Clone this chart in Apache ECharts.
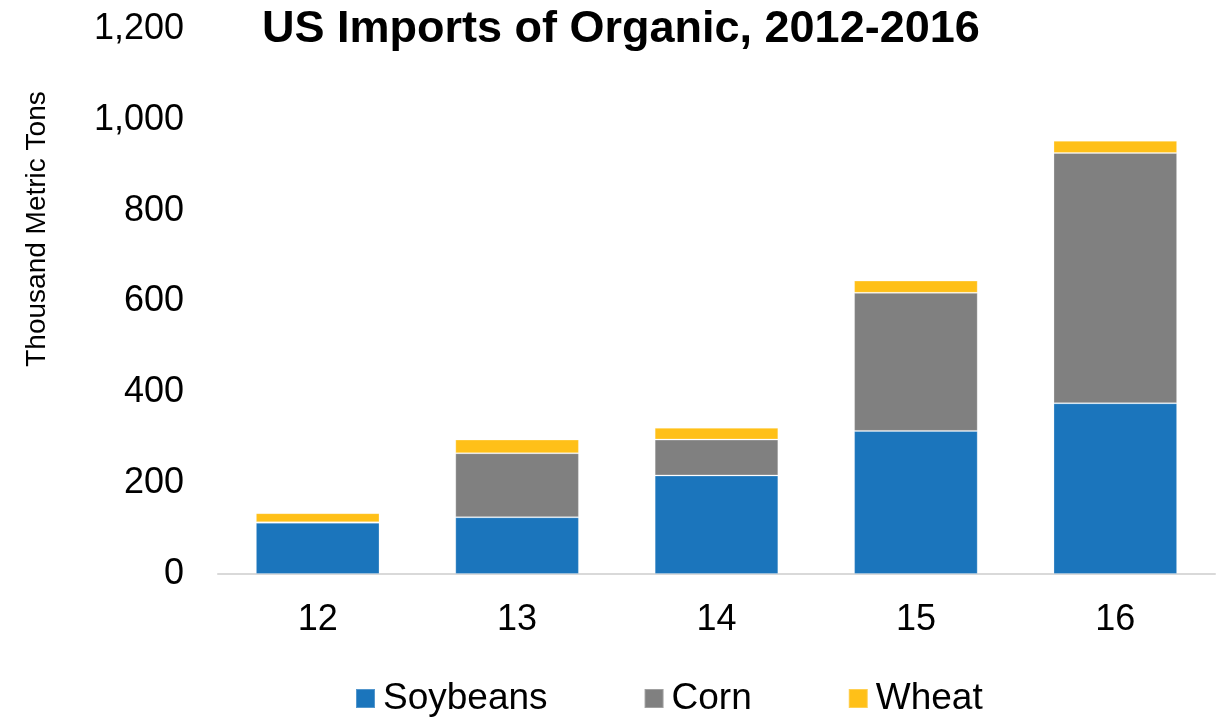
<!DOCTYPE html>
<html>
<head>
<meta charset="utf-8">
<title>US Imports of Organic</title>
<script src="https://cdn.jsdelivr.net/npm/echarts@6/dist/echarts.min.js"></script>
<style>
  html, body { margin: 0; padding: 0; background: #fff; }
  #main { width: 1223px; height: 718px; }
</style>
</head>
<body>
<div id="main"></div>
<script>
// data (thousand metric tons)
var years = ['12', '13', '14', '15', '16'];
var soybeans = [113, 125, 217, 315, 376];
var corn = [1, 141, 79, 304, 551];
var wheat = [20, 30, 26, 27, 27];
var yTicks = [0, 200, 400, 600, 800, 1000, 1200];

var font = 'Arial, "Liberation Sans", sans-serif';

var myChart = echarts.init(document.getElementById('main'));

function barSeries(name, data, color) {
    return {
        name: name,
        type: 'bar',
        stack: 'total',
        barWidth: '62%',
        data: data,
        itemStyle: {
            color: color,
            borderColor: 'rgba(255,255,255,0.25)',
            borderWidth: 1
        }
    };
}

var option = {
    animation: false,
    textStyle: { fontFamily: font },
    title: {
        text: 'US Imports of Organic, 2012-2016',
        left: 262,
        top: 7,
        padding: 0,
        textStyle: { fontFamily: font, fontSize: 45, fontWeight: 'bold', color: '#000' }
    },
    legend: {
        data: ['Soybeans', 'Corn', 'Wheat'],
        left: 355,
        top: 680,
        padding: 0,
        icon: 'rect',
        itemWidth: 19,
        itemHeight: 19,
        itemGap: 96,
        textStyle: { fontFamily: font, fontSize: 37, color: '#000', padding: [0, 0, 0, 3] }
    },
    grid: {
        left: 218,
        right: 8,
        top: 29,
        bottom: 144,
        containLabel: false
    },
    graphic: [{
        type: 'text',
        x: 37,
        y: 229,
        rotation: Math.PI / 2,
        style: {
            text: 'Thousand Metric Tons',
            fontFamily: font,
            fontSize: 28,
            fill: '#000',
            textAlign: 'center',
            textVerticalAlign: 'middle'
        }
    }],
    xAxis: {
        type: 'category',
        data: years,
        axisLine: { lineStyle: { color: '#d9d9d9', width: 2 } },
        axisTick: { show: false },
        axisLabel: { fontFamily: font, fontSize: 36, color: '#000', margin: 28 }
    },
    yAxis: {
        type: 'value',
        min: yTicks[0],
        max: yTicks[yTicks.length - 1],
        interval: 200,
        axisLine: { show: false },
        axisTick: { show: false },
        splitLine: { show: false },
        axisLabel: {
            fontFamily: font,
            fontSize: 36,
            color: '#000',
            margin: 34,
            formatter: function (v) { return v.toLocaleString('en-US'); }
        }
    },
    series: [
        barSeries('Soybeans', soybeans, '#1b75bc'),
        barSeries('Corn', corn, '#808080'),
        barSeries('Wheat', wheat, '#ffc018')
    ]
};

myChart.setOption(option);
</script>
</body>
</html>
